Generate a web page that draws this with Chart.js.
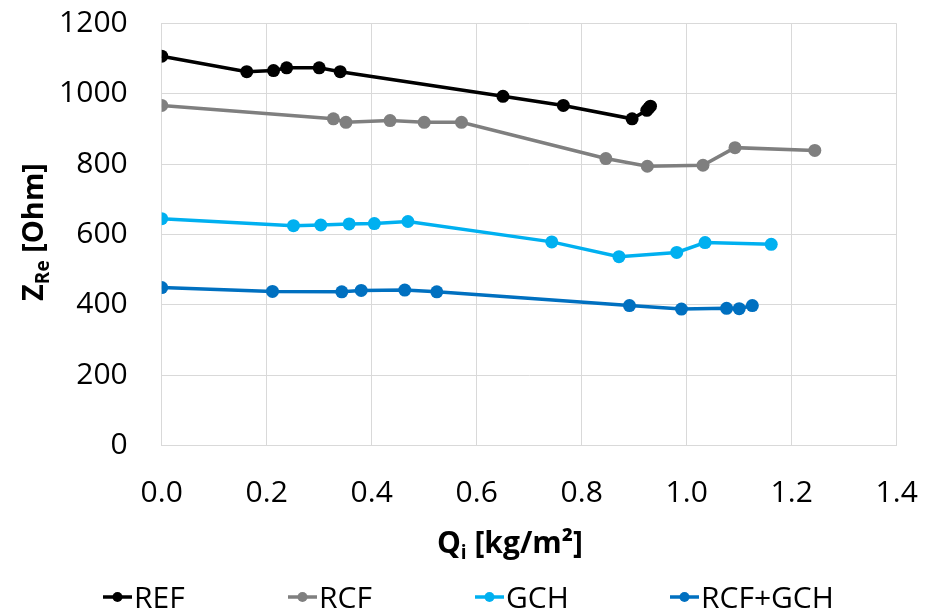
<!DOCTYPE html>
<html><head><meta charset="utf-8">
<script src="https://cdn.jsdelivr.net/npm/chart.js@4.4.1/dist/chart.umd.min.js"></script>
<style>html,body{margin:0;padding:0;background:#fff}#wrap{width:926px;height:614px}</style>
</head><body><div id="wrap"><canvas id="c" width="926" height="614"></canvas></div>
<script>
const seriesNames = ['REF', 'RCF', 'GCH', 'RCF+GCH'];
const seriesColors = ['#000000', '#7F7F7F', '#00B0F0', '#0070C0'];

const refX = [0.000, 0.162, 0.213, 0.238, 0.300, 0.340, 0.650, 0.765, 0.896, 0.924, 0.928, 0.931];
const refY = [1107, 1063, 1066, 1074, 1074, 1063, 993, 967, 929, 953, 960, 965];

const rcfX = [0.000, 0.327, 0.351, 0.435, 0.500, 0.571, 0.846, 0.925, 1.031, 1.092, 1.244];
const rcfY = [967, 929, 919, 924, 919, 919, 816, 794, 797, 847, 839];

const gchX = [0.000, 0.251, 0.303, 0.357, 0.405, 0.469, 0.743, 0.871, 0.981, 1.035, 1.161];
const gchY = [645, 625, 627, 630, 631, 637, 579, 537, 549, 577, 572];

const rgX = [0.000, 0.211, 0.343, 0.380, 0.463, 0.524, 0.891, 0.990, 1.076, 1.100, 1.125];
const rgY = [449, 438, 437, 441, 442, 437, 398, 388, 390, 389, 398];

const xTicks = [0.0, 0.2, 0.4, 0.6, 0.8, 1.0, 1.2, 1.4];
const yTicks = [0, 200, 400, 600, 800, 1000, 1200];

const xs = [refX, rcfX, gchX, rgX];
const ys = [refY, rcfY, gchY, rgY];

const FONT = '"Open Sans", "Liberation Sans", sans-serif';

const datasets = seriesNames.map((n, i) => ({
  label: n,
  data: xs[i].map((x, j) => ({x: x, y: ys[i][j]})),
  borderColor: seriesColors[i],
  backgroundColor: seriesColors[i],
  pointBackgroundColor: seriesColors[i],
  pointBorderColor: seriesColors[i],
  pointRadius: 6.5,
  pointBorderWidth: 0,
  borderWidth: 3.5,
  tension: 0,
  showLine: true,
  fill: false
}));

function drawRich(ctx, parts, cx, cy) {
  let w = 0;
  parts.forEach(p => { ctx.font = p.f; p.w = ctx.measureText(p.t).width; w += p.w; });
  let x = cx - w / 2;
  ctx.textAlign = 'left';
  ctx.textBaseline = 'alphabetic';
  parts.forEach(p => { ctx.font = p.f; ctx.fillText(p.t, x, cy + (p.dy || 0)); x += p.w; });
}

const overlay = {
  id: 'overlay',
  afterDraw(chart) {
    const ctx = chart.ctx;
    ctx.save();
    ctx.fillStyle = '#000';
    // y title
    ctx.save();
    ctx.translate(32, 232);
    ctx.rotate(-Math.PI / 2);
    drawRich(ctx, [
      {t: 'Z', f: 'bold 29px ' + FONT},
      {t: 'Re', f: 'bold 19px ' + FONT, dy: 6},
      {t: ' [Ohm]', f: 'bold 29px ' + FONT}
    ], 0, 10.5);
    ctx.restore();
    // x title
    drawRich(ctx, [
      {t: 'Q', f: 'bold 30px ' + FONT},
      {t: 'i', f: 'bold 19px ' + FONT, dy: 6},
      {t: ' [kg/m\u00B2]', f: 'bold 30px ' + FONT}
    ], 510, 553);
    // legend
    const lx = [103, 288, 475, 670];
    const ly = 597;
    seriesNames.forEach((n, i) => {
      const x0 = lx[i];
      ctx.strokeStyle = seriesColors[i];
      ctx.fillStyle = seriesColors[i];
      ctx.lineWidth = 3.5;
      ctx.beginPath(); ctx.moveTo(x0, ly); ctx.lineTo(x0 + 29, ly); ctx.stroke();
      ctx.beginPath(); ctx.arc(x0 + 14.5, ly, 5, 0, Math.PI * 2); ctx.fill();
      ctx.fillStyle = '#000';
      ctx.font = '30px ' + FONT;
      ctx.textAlign = 'left';
      ctx.textBaseline = 'alphabetic';
      ctx.fillText(n, x0 + 31, ly + 10.7);
    });
    ctx.restore();
  }
};

new Chart(document.getElementById('c'), {
  type: 'scatter',
  data: {datasets: datasets},
  options: {
    responsive: false,
    animation: false,
    devicePixelRatio: 1,
    layout: {padding: {left: 0, top: 23.5, right: 29.3, bottom: 0}},
    plugins: {legend: {display: false}, tooltip: {enabled: false}},
    scales: {
      x: {
        type: 'linear', min: 0, max: 1.4,
        afterBuildTicks: s => { s.ticks = xTicks.map(v => ({value: v})); },
        afterFit: s => { s.height = 168.5; s.paddingLeft = 0; s.paddingRight = 0; },
        grid: {color: '#D9D9D9', lineWidth: 1, drawTicks: false},
        border: {color: '#D9D9D9', width: 1},
        ticks: {
          padding: 30,
          color: '#000',
          font: {family: FONT, size: 30},
          callback: v => Number(v).toFixed(1),
          maxRotation: 0, autoSkip: false
        }
      },
      y: {
        type: 'linear', min: 0, max: 1200,
        afterBuildTicks: s => { s.ticks = yTicks.map(v => ({value: v})); },
        afterFit: s => { s.width = 161.7; s.paddingTop = 0; s.paddingBottom = 0; },
        grid: {color: '#D9D9D9', lineWidth: 1, drawTicks: false},
        border: {color: '#D9D9D9', width: 1},
        ticks: {
          padding: 34,
          color: '#000',
          font: {family: FONT, size: 30},
          callback: v => String(v),
          autoSkip: false
        }
      }
    }
  },
  plugins: [overlay]
});
</script>
</body></html>
